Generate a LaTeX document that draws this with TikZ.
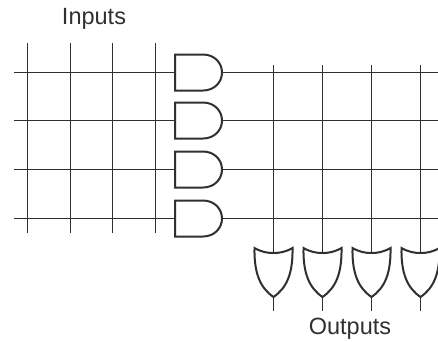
\documentclass[tikz,border=0pt]{standalone}
\usepackage{fontspec}
\setmainfont{Liberation Sans}
\definecolor{ink}{HTML}{303030}
\tikzset{
  wire/.style={draw=ink,line width=1.6pt},
  gatebody/.style={draw=ink,line width=2pt,line join=miter,fill=white},
  lbl/.style={text=ink,font=\fontsize{23.5}{25}\selectfont,inner sep=0pt}
}
\begin{document}
\begin{tikzpicture}[x=1pt,y=-1pt]
\useasboundingbox (0,0) rectangle (438,341);
\clip (0,0) rectangle (438,341);
\node[lbl] (inlabel) at (94,19) {Inputs};
\node[lbl] (outlabel) at (350,329) {Outputs};
% input columns
\foreach \n/\x in {1/27.5,2/70.5,3/112.5,4/155.5}{
  \coordinate (it\n) at (\x,43);
  \coordinate (ib\n) at (\x,233);
  \draw[wire] (it\n) -- (ib\n);
}
% AND gates and product lines
\foreach \n/\y in {1/72.5,2/120.5,3/169.5,4/218.5}{
  \coordinate (rl\n) at (14,\y);
  \coordinate (ai\n) at (175,\y);
  \coordinate (ao\n) at (222,\y);
  \coordinate (re\n) at (438,\y);
  \draw[wire] (rl\n) -- (ai\n);
  \draw[wire] (ao\n) -- (re\n);
  \draw[gatebody] (175,\y-18) -- (203,\y-18)
     .. controls (214,\y-18) and (222,\y-10) .. (ao\n)
     .. controls (222,\y+10) and (214,\y+18) .. (203,\y+18)
     -- (175,\y+18) -- cycle;
}
% output columns and OR gates
\foreach \n/\x in {1/273.5,2/322.5,3/371.5,4/420.5}{
  \coordinate (ot\n) at (\x,65);
  \coordinate (on\n) at (\x,253);
  \coordinate (op\n) at (\x,297);
  \coordinate (oe\n) at (\x,311);
  \draw[wire] (ot\n) -- (on\n);
  \draw[wire] (op\n) -- (oe\n);
  \draw[gatebody] (\x-19,248) .. controls (\x-12,252) and (\x-6,253) .. (on\n)
     .. controls (\x+6,253) and (\x+12,252) .. (\x+19,248)
     .. controls (\x+19.5,274) and (\x+13,288) .. (op\n)
     .. controls (\x-13,288) and (\x-19.5,274) .. cycle;
}
\end{tikzpicture}
\end{document}
